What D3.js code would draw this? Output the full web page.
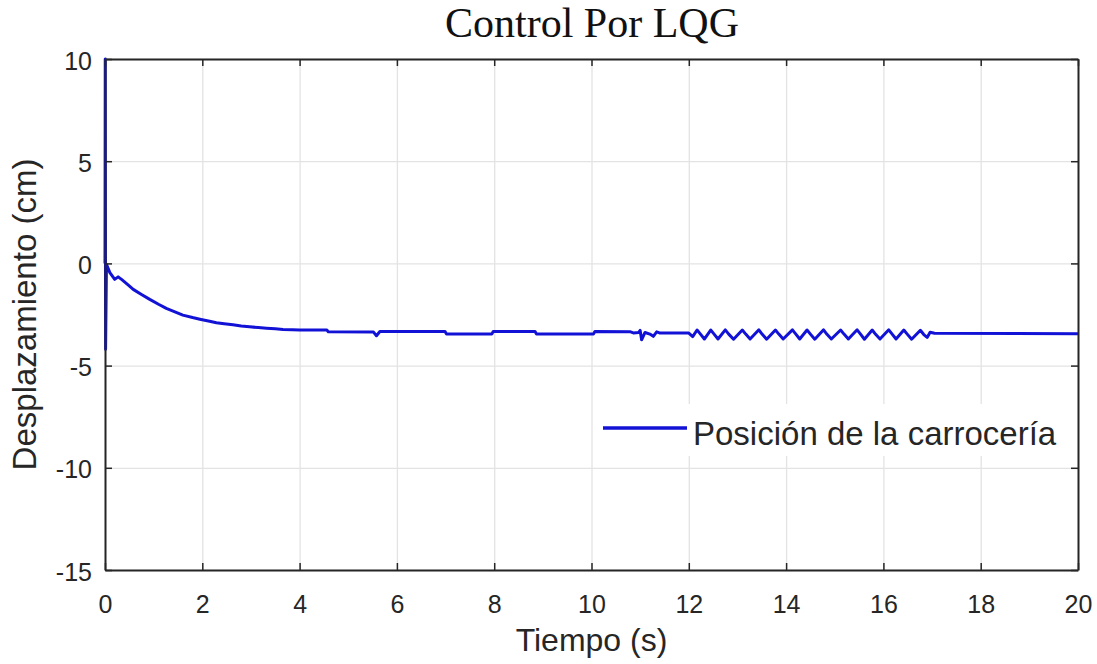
<!DOCTYPE html>
<html>
<head>
<meta charset="utf-8">
<script src="https://d3js.org/d3.v7.min.js"></script>
<style>
  body { margin: 0; background: #fff; }
  svg { display: block; }
</style>
</head>
<body>
<svg id="chart"></svg>
<script>
// simulation output: time (s) and body position (cm)
var timeS = [
    0, 0.005, 0.012, 0.03, 0.1, 0.2, 0.27, 0.34, 0.45, 0.58, 0.75, 0.92, 1.1, 1.26,
    1.45, 1.6, 1.8, 1.95, 2.15, 2.29, 2.45, 2.63, 2.8, 2.97, 3.15, 3.32, 3.5, 3.66,
    3.85, 4.0, 4.56, 4.59, 5.52, 5.58, 5.65, 6.99, 7.02, 7.95, 7.98, 8.84, 8.87,
    10.04, 10.07, 10.79, 10.86, 10.97, 11.0, 11.03, 11.1, 11.2, 11.27, 11.34, 11.41,
    12.0, 12.08, 12.17, 12.24, 12.32, 12.45, 12.52, 12.6, 12.75, 12.82, 12.92,
    13.1, 13.17, 13.26, 13.44, 13.51, 13.6, 13.78, 13.85, 13.94, 14.13, 14.2, 14.28,
    14.43, 14.5, 14.59, 14.77, 14.84, 14.93, 15.12, 15.19, 15.28, 15.46, 15.53, 15.61,
    15.77, 15.84, 15.93, 16.11, 16.18, 16.26, 16.42, 16.49, 16.58, 16.76, 16.83,
    16.9, 16.96, 17.05, 20
];
var posCm = [
    0, 10, -4.2, -0.05, -0.45, -0.78, -0.66, -0.78, -1.0, -1.27, -1.52, -1.76, -2.0, -2.2,
    -2.38, -2.53, -2.65, -2.73, -2.83, -2.9, -2.95, -3.0, -3.06, -3.1, -3.14, -3.17, -3.2, -3.23,
    -3.25, -3.26, -3.26, -3.35, -3.36, -3.54, -3.33, -3.33, -3.46, -3.46, -3.33, -3.33, -3.46,
    -3.46, -3.33, -3.34, -3.4, -3.38, -3.28, -3.74, -3.38, -3.46, -3.57, -3.35, -3.41,
    -3.41, -3.58, -3.26, -3.46, -3.7, -3.26, -3.46, -3.7, -3.25, -3.46, -3.71,
    -3.26, -3.46, -3.7, -3.25, -3.47, -3.71, -3.26, -3.46, -3.7, -3.25, -3.46, -3.7,
    -3.26, -3.46, -3.71, -3.25, -3.47, -3.7, -3.26, -3.46, -3.7, -3.25, -3.46, -3.71,
    -3.26, -3.47, -3.7, -3.25, -3.46, -3.7, -3.26, -3.46, -3.71, -3.27, -3.48,
    -3.62, -3.37, -3.42, -3.44
];
var xTicks = [0, 2, 4, 6, 8, 10, 12, 14, 16, 18, 20];
var yTicks = [-15, -10, -5, 0, 5, 10];

var titleText = "Control Por LQG";
var xLabel = "Tiempo (s)";
var yLabel = "Desplazamiento (cm)";
var seriesName = "Posición de la carrocería";

function drawChart() {
    var svgWidth = 1097, svgHeight = 664;
    var margin = { top: 59, right: 19, bottom: 94, left: 105 };
    var width = svgWidth - margin.left - margin.right;
    var height = svgHeight - margin.top - margin.bottom;
    var axisColor = "#262626";
    var lineColor = "#1212d6";
    var plainNum = function(d) { return String(d); }; // matlab uses a hyphen, not U+2212

    var svg = d3.select("#chart")
        .attr("width", svgWidth)
        .attr("height", svgHeight)
        .style("font-family", "'Liberation Sans', Arial, sans-serif");

    svg.append("rect")
        .attr("width", svgWidth)
        .attr("height", svgHeight)
        .attr("fill", "#fff");

    var g = svg.append("g")
        .attr("transform", "translate(" + margin.left + "," + margin.top + ")");

    var x = d3.scaleLinear().domain([0, 20]).range([0, width]);
    var y = d3.scaleLinear().domain([-15, 10]).range([height, 0]);

    // grid
    g.append("g")
        .attr("transform", "translate(0," + height + ")")
        .call(d3.axisBottom(x).tickValues(xTicks).tickSize(-height).tickFormat(""))
        .call(function(s) { s.select(".domain").remove(); })
        .selectAll("line")
        .attr("stroke", "#e3e3e3")
        .attr("stroke-width", 1.3);

    g.append("g")
        .call(d3.axisLeft(y).tickValues(yTicks).tickSize(-width).tickFormat(""))
        .call(function(s) { s.select(".domain").remove(); })
        .selectAll("line")
        .attr("stroke", "#e3e3e3")
        .attr("stroke-width", 1.3);

    // data line
    var data = timeS.map(function(t, i) { return { t: t, v: posCm[i] }; });

    var line = d3.line()
        .x(function(d) { return x(d.t); })
        .y(function(d) { return y(d.v); });

    g.append("path")
        .datum(data)
        .attr("fill", "none")
        .attr("stroke", lineColor)
        .attr("stroke-width", 3)
        .attr("stroke-linejoin", "round")
        .attr("d", line);

    // axes, ticks pointing inward like matlab
    var xAxis = g.append("g")
        .attr("class", "box")
        .attr("transform", "translate(0," + height + ")")
        .call(d3.axisBottom(x).tickValues(xTicks).tickFormat(plainNum)
            .tickSizeInner(-7).tickSizeOuter(0).tickPadding(25));

    var yAxis = g.append("g")
        .attr("class", "box")
        .call(d3.axisLeft(y).tickValues(yTicks).tickFormat(plainNum)
            .tickSizeInner(-7).tickSizeOuter(0).tickPadding(13));

    g.append("g")
        .attr("class", "box")
        .call(d3.axisTop(x).tickValues(xTicks).tickSizeInner(-7).tickSizeOuter(0).tickFormat(""));

    g.append("g")
        .attr("class", "box")
        .attr("transform", "translate(" + width + ",0)")
        .call(d3.axisRight(y).tickValues(yTicks).tickSizeInner(-7).tickSizeOuter(0).tickFormat(""));

    g.selectAll(".box .domain")
        .attr("stroke", axisColor)
        .attr("stroke-width", 2);
    g.selectAll(".box .tick line")
        .attr("stroke", axisColor)
        .attr("stroke-width", 1.5);

    xAxis.selectAll("text")
        .attr("font-size", "25px")
        .attr("font-family", "'Liberation Sans', Arial, sans-serif")
        .attr("fill", axisColor);
    yAxis.selectAll("text")
        .attr("font-size", "25px")
        .attr("font-family", "'Liberation Sans', Arial, sans-serif")
        .attr("fill", axisColor)
        .attr("dy", "0.4em");

    // legend
    var leg = g.append("g")
        .attr("transform", "translate(" + (596 - margin.left) + "," + (404 - margin.top) + ")");
    leg.append("rect")
        .attr("width", 474)
        .attr("height", 52)
        .attr("fill", "#fff");
    leg.append("line")
        .attr("x1", 7).attr("x2", 91)
        .attr("y1", 24).attr("y2", 24)
        .attr("stroke", lineColor)
        .attr("stroke-width", 3.5);
    leg.append("text")
        .attr("x", 97)
        .attr("y", 41)
        .attr("font-size", "33px")
        .attr("fill", axisColor)
        .text(seriesName);

    // labels
    svg.append("text")
        .attr("x", margin.left + width / 2)
        .attr("y", 651)
        .attr("text-anchor", "middle")
        .attr("font-size", "32px")
        .attr("fill", axisColor)
        .text(xLabel);

    svg.append("text")
        .attr("transform", "translate(36," + (margin.top + height / 2) + ") rotate(-90)")
        .attr("text-anchor", "middle")
        .attr("font-size", "33px")
        .attr("fill", axisColor)
        .text(yLabel);

    svg.append("text")
        .attr("x", 592)
        .attr("y", 37)
        .attr("text-anchor", "middle")
        .attr("font-family", "'Liberation Serif', 'Times New Roman', serif")
        .attr("font-size", "42px")
        .attr("fill", "#111")
        .text(titleText);
}

drawChart();
</script>
</body>
</html>
